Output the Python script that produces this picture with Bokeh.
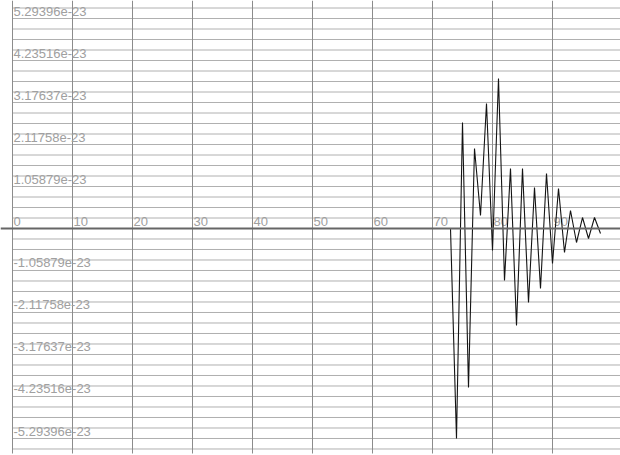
from bokeh.plotting import figure
from bokeh.models import Range1d, Span
from bokeh.core.properties import value
from bokeh.embed import file_html
from bokeh.resources import INLINE

# --- data -------------------------------------------------------------
UNIT = 1e-23

# sample index and amplitude (in units of 1e-23); quiet until sample 73
quiet_samples = list(range(0, 74))
quiet_values = [0.0] * len(quiet_samples)

burst_samples = list(range(74, 99))
burst_values = [-5.29396, 2.672, -4.008, 2.017, 0.328, 3.151, -0.555, 3.781,
                -1.311, 1.513, -2.445, 1.513, -1.865, 1.034, -1.513, 1.387,
                -0.882, 1.008, -0.605, 0.454, -0.353, 0.277, -0.252, 0.277,
                -0.126]

x_ticks = [0, 10, 20, 30, 40, 50, 60, 70, 80, 90]
x_tick_labels = ["0", "10", "20", "30", "40", "50", "60", "70", "80", "90"]

y_ticks = [5.29396, 4.23516, 3.17637, 2.11758, 1.05879,
           -1.05879, -2.11758, -3.17637, -4.23516, -5.29396]
y_tick_labels = ["5.29396e-23", "4.23516e-23", "3.17637e-23", "2.11758e-23",
                 "1.05879e-23", "-1.05879e-23", "-2.11758e-23",
                 "-3.17637e-23", "-4.23516e-23", "-5.29396e-23"]

# --- figure -----------------------------------------------------------
W, H = 620, 455
px = 5.29396 * UNIT / 210.0          # value per vertical pixel
y_top = 228 * px
y_bot = -227 * px

p = figure(width=W, height=H, output_backend="svg", toolbar_location=None,
           x_range=Range1d(-2, -2 + W / 6.0), y_range=Range1d(y_bot, y_top),
           x_axis_location=None, y_axis_location=None, min_border=0)
p.grid.visible = False
p.outline_line_color = None
p.background_fill_color = "white"
p.border_fill_color = "white"

# horizontal grid: four lines per labelled step
step = 1.05879 * UNIT / 4
h_levels = [k * step for k in range(-21, 22)]
p.segment(x0=[0] * len(h_levels), x1=[-2 + W / 6.0] * len(h_levels),
          y0=h_levels, y1=h_levels, line_color="#b0b0b0", line_width=1)

# vertical grid at labelled x positions
v_bottom = -225 * px
p.segment(x0=x_ticks, x1=x_ticks, y0=[y_top] * len(x_ticks),
          y1=[v_bottom] * len(x_ticks), line_color="#8c8c8c", line_width=1)

# zero line across the whole width
p.add_layout(Span(location=0, dimension="width", line_color="#666666",
                  line_width=2))

label_style = dict(text_font=value("Liberation Sans"), text_font_size="13px",
                   text_color="#a0a0a0", text_align="left",
                   text_baseline="bottom")

# x labels sit just above the zero line, to the right of each grid line
p.text(x=x_ticks, y=[0] * len(x_ticks), text=x_tick_labels,
       x_offset=1, y_offset=-3, **label_style)

# y labels sit just above their level, along the left edge
p.text(x=[0] * len(y_ticks), y=[v * UNIT for v in y_ticks], text=y_tick_labels,
       x_offset=1, y_offset=-3, **label_style)

# signal trace
xs = quiet_samples + burst_samples
ys = [v * UNIT for v in quiet_values + burst_values]
p.line(xs, ys, line_color="#141414", line_width=1.1)

open("out.html", "w").write(file_html(p, INLINE))
